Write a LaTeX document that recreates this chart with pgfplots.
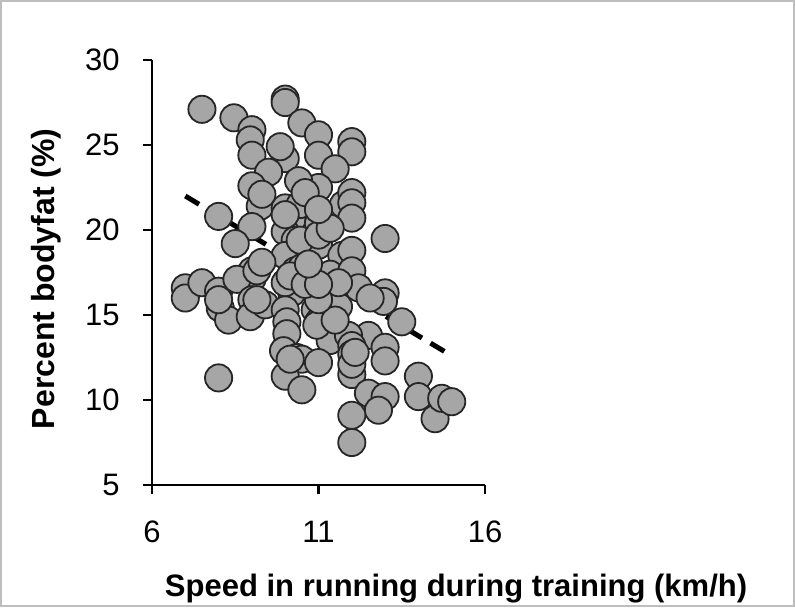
\documentclass[border=0pt]{standalone}
\usepackage{pgfplots}
\pgfplotsset{compat=1.18}
\usepackage{pgfplotstable}
\usepackage{fontspec}
\setmainfont{Liberation Sans}
\definecolor{dotfill}{RGB}{166,166,166}
\definecolor{dotedge}{RGB}{38,38,38}
\definecolor{framegray}{RGB}{190,190,190}

% speed (km/h), body fat (%)
\pgfplotstableread{
x y
7.50 27.1
10.0 27.7
10.0 27.5
8.46 26.6
10.5 26.3
9.0 25.9
11.0 25.6
12.0 25.2
12.0 24.6
8.95 25.3
9.0 24.4
10.0 24.2
9.85 24.9
11.0 24.4
11.5 23.6
9.5 23.4
9.0 22.6
11.0 22.5
10.4 22.9
9.25 21.4
10.0 21.3
10.2 20.6
8.0 20.8
11.0 20.4
9.0 20.2
11.75 21.5
12.0 22.2
12.0 21.6
12.0 20.7
10.0 19.9
10.3 19.4
8.5 19.2
11.0 19.1
13.0 19.5
11.7 18.5
12.0 18.8
10.0 18.5
10.3 17.6
10.5 17.8
9.0 17.6
9.0 17.1
11.35 17.4
12.0 17.6
7.0 16.6
7.0 16.0
7.5 16.9
8.0 16.4
8.55 17.1
8.05 15.4
8.3 14.7
9.0 15.9
8.95 14.9
9.4 15.6
10.2 16.3
10.0 16.9
10.15 17.3
10.0 15.3
10.05 14.6
10.05 13.9
9.95 12.9
10.9 15.3
11.0 14.6
11.6 15.5
11.35 13.5
12.2 16.6
13.0 16.3
12.95 15.8
12.55 16.0
13.5 14.6
12.5 13.8
11.9 13.8
12.0 13.2
12.0 12.7
13.0 13.1
13.0 12.3
10.35 12.5
10.5 12.4
11.0 12.2
10.0 11.4
10.5 10.6
12.0 11.5
12.0 12.1
8.0 11.3
14.0 11.4
14.0 10.2
12.5 10.4
13.0 10.2
12.8 9.4
12.0 9.1
12.0 7.5
14.5 8.9
14.7 10.1
15.0 9.9
11.6 16.9
10.95 14.4
12.1 12.8
9.15 15.9
9.15 17.6
10.45 19.4
11.0 19.7
10.45 21.5
10.6 22.2
10.0 20.9
11.35 20.1
11.0 21.2
9.3 22.1
11.5 14.7
10.15 12.4
11.0 15.9
10.6 16.8
11.0 16.8
8.0 15.9
9.3 18.1
10.7 18.0
}\speedfat

\begin{document}
\begin{tikzpicture}
\useasboundingbox (0,0) rectangle (397.5pt,305.5pt);
\draw[framegray,line width=1pt] (0.5pt,2.5pt) rectangle (397pt,305pt);
\begin{axis}[
  scale only axis,
  width=166.5pt,height=212.5pt,
  at={(76pt,63pt)},anchor=south west,
  xmin=6,xmax=16,ymin=5,ymax=30,
  xtick={6,11,16},ytick={5,10,...,30},
  axis x line=bottom,axis y line=left,
  axis line style={-,line width=1.3pt,black},
  tick style={line width=1.3pt,black},
  tick align=outside,major tick length=4.5pt,
  /pgf/number format/assume math mode=true,
  ticklabel style={font=\fontsize{15.5}{17}\selectfont},
  xticklabel style={anchor=center,yshift=-19pt},
  yticklabel style={anchor=east,inner sep=0pt,xshift=-11.5pt},
  xlabel={\bfseries Speed in running during training (km/h)},
  xlabel style={at={(rel axis cs:0.913,-0.2635)},anchor=base,
    font=\fontsize{15.5}{17}\selectfont},
  ylabel={\bfseries Percent bodyfat (\%)},
  ylabel style={at={(rel axis cs:-0.294,0.485)},anchor=base,
    font=\fontsize{16}{18}\selectfont},
  clip=false]
\addplot[black,line width=2.5pt,dash pattern=on 8pt off 5pt]
  coordinates {(7,22) (15,12.6)};
\addplot[only marks,mark=*,mark size=6.8pt,
  mark options={fill=dotfill,draw=dotedge,line width=0.9pt}]
  table[x=x,y=y] {\speedfat};
\end{axis}
\end{tikzpicture}
\end{document}
